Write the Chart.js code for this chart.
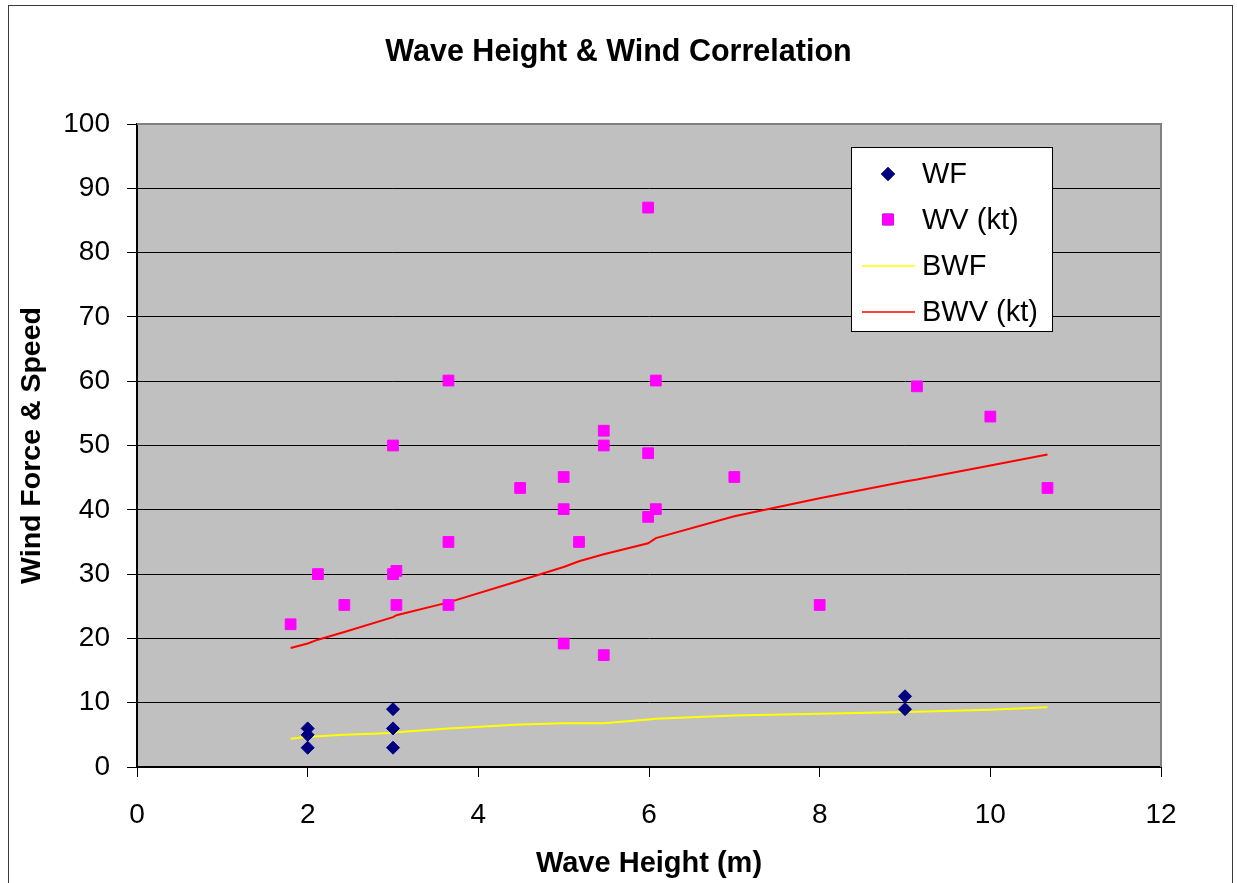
<!DOCTYPE html>
<html>
<head>
<meta charset="utf-8">
<script src="https://cdn.jsdelivr.net/npm/chart.js@4.4.0/dist/chart.umd.min.js"></script>
<style>
  html, body { margin: 0; padding: 0; background: #ffffff; }
  #wrap { position: relative; width: 1237px; height: 883px; }
</style>
</head>
<body>
<div id="wrap"><canvas id="c" width="1237" height="883"></canvas></div>
<script>
// ---- data ----
const chartTitle = 'Wave Height & Wind Correlation';
const xTitle = 'Wave Height (m)';
const yTitle = 'Wind Force & Speed';
const seriesNames = ['WF', 'WV (kt)', 'BWF', 'BWV (kt)'];

const wfX = [2, 2, 2, 3, 3, 3, 9, 9];
const wfY = [6, 5, 3, 9, 6, 3, 11, 9];

const wvX = [1.8, 2.12, 2.43, 3.0, 3.0, 3.04, 3.04, 3.65, 3.65, 3.65, 4.49, 5.0, 5.0, 5.0,
             5.18, 5.47, 5.47, 5.47, 5.99, 5.99, 5.99, 6.08, 6.08, 7.0, 8.0, 9.14, 10.0, 10.67];
const wvY = [22.2, 30, 25.2, 50, 30, 30.5, 25.2, 60.1, 35, 25.2, 43.4, 45.1, 40.1, 19.2,
             35, 52.3, 50, 17.4, 87, 48.8, 38.9, 60.1, 40.1, 45.1, 25.2, 59.2, 54.5, 43.4];

const bwX   = [1.8, 2.0, 2.12, 2.43, 3.0, 3.04, 3.65, 4.49, 5.0, 5.18, 5.47, 5.99, 6.08, 7.0, 8.0, 9.0, 9.14, 10.0, 10.67];
const bwfY  = [4.4, 4.7, 4.8, 5.0, 5.3, 5.4, 6.0, 6.6, 6.8, 6.8, 6.8, 7.4, 7.5, 8.0, 8.3, 8.55, 8.6, 8.9, 9.3];
const bwvY  = [18.5, 19.2, 19.8, 21.0, 23.3, 23.6, 25.6, 29.0, 31.1, 32.0, 33.1, 34.8, 35.6, 39.0, 41.8, 44.4, 44.7, 46.9, 48.6];

const xTicks = [0, 2, 4, 6, 8, 10, 12];
const yTicks = [0, 10, 20, 30, 40, 50, 60, 70, 80, 90, 100];

// ---- build datasets ----
const pts = (xs, ys) => xs.map((x, i) => ({ x: x, y: ys[i] }));
const FONT = '"Liberation Sans", Arial, sans-serif';

const decor = {
  id: 'decor',
  beforeDraw(chart) {
    const { ctx, chartArea: a } = chart;
    ctx.save();
    ctx.fillStyle = '#ffffff';
    ctx.fillRect(0, 0, chart.width, chart.height);
    ctx.strokeStyle = '#3a3a3a';
    ctx.lineWidth = 1;
    ctx.strokeRect(8.5, 5.5, 1224, 900);
    ctx.fillStyle = '#c0c0c0';
    ctx.fillRect(a.left, a.top, a.right - a.left, a.bottom - a.top);
    ctx.restore();
  },
  afterDatasetsDraw(chart) {
    const { ctx, chartArea: a } = chart;
    ctx.save();
    ctx.strokeStyle = '#808080';
    ctx.lineWidth = 2;
    ctx.beginPath();
    ctx.moveTo(a.left, a.top);
    ctx.lineTo(a.right, a.top);
    ctx.lineTo(a.right, a.bottom);
    ctx.stroke();
    // legend box
    const bx = 851.5, by = 147.5, bw = 201, bh = 184;
    ctx.fillStyle = '#ffffff';
    ctx.fillRect(bx, by, bw, bh);
    ctx.strokeStyle = '#000000';
    ctx.lineWidth = 1;
    ctx.strokeRect(bx, by, bw, bh);
    const rowsY = [174, 219.5, 266, 312];
    ctx.font = '29px ' + FONT;
    ctx.textBaseline = 'middle';
    ctx.textAlign = 'left';
    chart.data.datasets.forEach((ds, i) => {
      const y = rowsY[i];
      if (ds.showLine) {
        ctx.strokeStyle = ds.borderColor;
        ctx.lineWidth = 1.5;
        ctx.beginPath();
        ctx.moveTo(862, y);
        ctx.lineTo(915, y);
        ctx.stroke();
      } else {
        Chart.helpers.drawPoint(ctx, {
          pointStyle: ds.pointStyle, radius: ds.pointRadius, borderWidth: 1, rotation: 0
        }, 888, y);
        ctx.fillStyle = ds.backgroundColor;
        ctx.strokeStyle = ds.borderColor;
        ctx.lineWidth = 1;
        ctx.fill();
        ctx.stroke();
      }
      ctx.fillStyle = '#000000';
      ctx.fillText(ds.label, 922, y + 1);
    });
    ctx.restore();
  }
};

new Chart(document.getElementById('c'), {
  type: 'scatter',
  data: {
    datasets: [
      { label: seriesNames[0], data: pts(wfX, wfY), pointStyle: 'rectRot', pointRadius: 6.5,
        backgroundColor: '#000080', borderColor: '#000080', borderWidth: 1, showLine: false, order: 1 },
      { label: seriesNames[1], data: pts(wvX, wvY), pointStyle: 'rect', pointRadius: 7.6,
        backgroundColor: '#ff00ff', borderColor: '#ff00ff', borderWidth: 1, showLine: false, order: 1 },
      { label: seriesNames[2], data: pts(bwX, bwfY), showLine: true, pointRadius: 0,
        borderColor: '#ffff00', backgroundColor: '#ffff00', borderWidth: 2, tension: 0, order: 2 },
      { label: seriesNames[3], data: pts(bwX, bwvY), showLine: true, pointRadius: 0,
        borderColor: '#ff0000', backgroundColor: '#ff0000', borderWidth: 2, tension: 0, order: 2 }
    ]
  },
  options: {
    responsive: false,
    animation: false,
    events: [],
    layout: { padding: { left: 0, right: 0, top: 0, bottom: 0 } },
    plugins: {
      legend: { display: false },
      tooltip: { enabled: false },
      title: {
        display: true, text: chartTitle, color: '#000',
        font: { family: FONT, size: 30.5, weight: 'bold', lineHeight: 1.2 },
        padding: { top: 34, bottom: 53.4 }
      }
    },
    scales: {
      x: {
        type: 'linear', min: 0, max: 12,
        afterBuildTicks: (s) => { s.ticks = xTicks.map(v => ({ value: v })); },
        afterFit: (s) => { s.height = 116; },
        ticks: { color: '#000', font: { family: FONT, size: 28 }, padding: 21, maxRotation: 0, autoSkip: false },
        grid: { drawOnChartArea: false, drawTicks: true, tickLength: 10, color: '#000', lineWidth: 1 },
        border: { display: true, color: '#000', width: 2 },
        title: { display: true, text: xTitle, color: '#000',
          font: { family: FONT, size: 29, weight: 'bold', lineHeight: 1.2 }, padding: { top: 0, bottom: 2 } }
      },
      y: {
        type: 'linear', min: 0, max: 100,
        afterBuildTicks: (s) => { s.ticks = yTicks.map(v => ({ value: v })); },
        afterFit: (s) => { s.width = 137; },
        ticks: { color: '#000', font: { family: FONT, size: 28 }, padding: 17, autoSkip: false },
        grid: { drawOnChartArea: true, drawTicks: true, tickLength: 10, color: '#000', lineWidth: 1 },
        border: { display: true, color: '#000', width: 2 },
        title: { display: true, text: yTitle, color: '#000',
          font: { family: FONT, size: 28.5, weight: 'bold', lineHeight: 1.2 }, padding: { top: 15, bottom: 0 } }
      },
      yRightSpace: {
        type: 'linear', position: 'right', min: 0, max: 1, display: true,
        afterFit: (s) => { s.width = 76; },
        ticks: { display: false },
        grid: { display: false, drawTicks: false },
        border: { display: false },
        title: { display: false }
      }
    }
  },
  plugins: [decor]
});
</script>
</body>
</html>
